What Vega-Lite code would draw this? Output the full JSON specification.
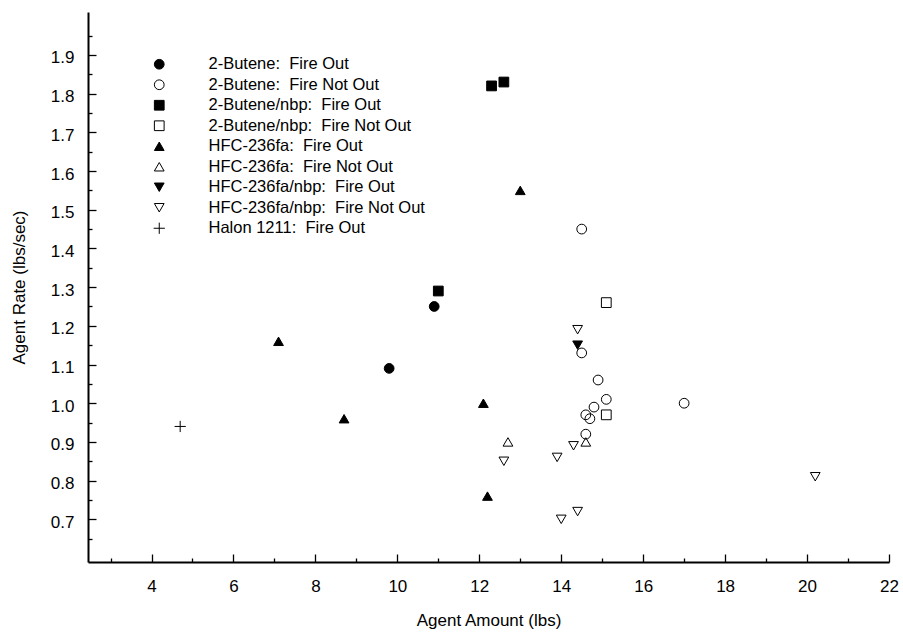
{
  "$schema": "https://vega.github.io/schema/vega-lite/v6.json",
  "autosize": "none",
  "width": 801,
  "height": 550,
  "padding": {"left": 88, "top": 12, "right": 14, "bottom": 77},
  "background": "white",
  "config": {
    "view": {"stroke": null},
    "font": "Liberation Sans",
    "axis": {
      "grid": false,
      "domainColor": "black",
      "domainWidth": 2,
      "tickColor": "black",
      "tickWidth": 1.3,
      "labelColor": "black",
      "labelFont": "Liberation Sans",
      "labelFontSize": 17,
      "titleFont": "Liberation Sans",
      "titleFontSize": 17,
      "titleFontWeight": "normal",
      "titleColor": "black"
    },
    "legend": {
      "title": null,
      "orient": "none",
      "legendX": 63,
      "legendY": 44,
      "padding": 0,
      "labelFont": "Liberation Sans",
      "labelFontSize": 16.5,
      "labelColor": "black",
      "labelLimit": 400,
      "labelOffset": 41,
      "rowPadding": 3.5,
      "symbolSize": 95,
      "symbolStrokeWidth": 1
    }
  },
  "data": {
    "values": [
      {"series": "2-Butene:\u00a0 Fire Out", "amount": 9.8, "rate": 1.09},
      {"series": "2-Butene:\u00a0 Fire Out", "amount": 10.9, "rate": 1.25},
      {"series": "2-Butene:\u00a0 Fire Not Out", "amount": 14.5, "rate": 1.45},
      {"series": "2-Butene:\u00a0 Fire Not Out", "amount": 14.5, "rate": 1.13},
      {"series": "2-Butene:\u00a0 Fire Not Out", "amount": 14.9, "rate": 1.06},
      {"series": "2-Butene:\u00a0 Fire Not Out", "amount": 15.1, "rate": 1.01},
      {"series": "2-Butene:\u00a0 Fire Not Out", "amount": 14.8, "rate": 0.99},
      {"series": "2-Butene:\u00a0 Fire Not Out", "amount": 14.6, "rate": 0.97},
      {"series": "2-Butene:\u00a0 Fire Not Out", "amount": 14.7, "rate": 0.96},
      {"series": "2-Butene:\u00a0 Fire Not Out", "amount": 14.6, "rate": 0.92},
      {"series": "2-Butene:\u00a0 Fire Not Out", "amount": 17.0, "rate": 1.0},
      {"series": "2-Butene/nbp:\u00a0 Fire Out", "amount": 12.3, "rate": 1.82},
      {"series": "2-Butene/nbp:\u00a0 Fire Out", "amount": 12.6, "rate": 1.83},
      {"series": "2-Butene/nbp:\u00a0 Fire Out", "amount": 11.0, "rate": 1.29},
      {"series": "2-Butene/nbp:\u00a0 Fire Not Out", "amount": 15.1, "rate": 1.26},
      {"series": "2-Butene/nbp:\u00a0 Fire Not Out", "amount": 15.1, "rate": 0.97},
      {"series": "HFC-236fa:\u00a0 Fire Out", "amount": 7.1, "rate": 1.16},
      {"series": "HFC-236fa:\u00a0 Fire Out", "amount": 8.7, "rate": 0.96},
      {"series": "HFC-236fa:\u00a0 Fire Out", "amount": 12.1, "rate": 1.0},
      {"series": "HFC-236fa:\u00a0 Fire Out", "amount": 13.0, "rate": 1.55},
      {"series": "HFC-236fa:\u00a0 Fire Out", "amount": 12.2, "rate": 0.76},
      {"series": "HFC-236fa:\u00a0 Fire Not Out", "amount": 12.7, "rate": 0.9},
      {"series": "HFC-236fa:\u00a0 Fire Not Out", "amount": 14.6, "rate": 0.9},
      {"series": "HFC-236fa/nbp:\u00a0 Fire Out", "amount": 14.4, "rate": 1.15},
      {"series": "HFC-236fa/nbp:\u00a0 Fire Not Out", "amount": 14.4, "rate": 1.19},
      {"series": "HFC-236fa/nbp:\u00a0 Fire Not Out", "amount": 14.3, "rate": 0.89},
      {"series": "HFC-236fa/nbp:\u00a0 Fire Not Out", "amount": 13.9, "rate": 0.86},
      {"series": "HFC-236fa/nbp:\u00a0 Fire Not Out", "amount": 12.6, "rate": 0.85},
      {"series": "HFC-236fa/nbp:\u00a0 Fire Not Out", "amount": 14.4, "rate": 0.72},
      {"series": "HFC-236fa/nbp:\u00a0 Fire Not Out", "amount": 14.0, "rate": 0.7},
      {"series": "HFC-236fa/nbp:\u00a0 Fire Not Out", "amount": 20.2, "rate": 0.81},
      {"series": "Halon 1211:\u00a0 Fire Out", "amount": 4.7, "rate": 0.94}
    ]
  },
  "layer": [
    {
      "mark": {"type": "point", "filled": true, "strokeWidth": 1, "opacity": 1},
      "encoding": {
        "x": {
          "field": "amount", "type": "quantitative",
          "scale": {"domain": [2.45, 22], "nice": false, "zero": false},
          "axis": {
            "orient": "bottom",
            "values": [4, 6, 8, 10, 12, 14, 16, 18, 20, 22],
            "ticks": false,
            "tickSize": 0,
            "labelPadding": 16,
            "labelFlush": false,
            "labelOverlap": false,
            "title": "Agent Amount (lbs)",
            "titlePadding": 18
          }
        },
        "y": {
          "field": "rate", "type": "quantitative",
          "scale": {"domain": [0.5897, 2.011], "nice": false, "zero": false},
          "axis": {
            "orient": "left",
            "values": [0.7, 0.8, 0.9, 1.0, 1.1, 1.2, 1.3, 1.4, 1.5, 1.6, 1.7, 1.8, 1.9],
            "format": ".1f",
            "ticks": false,
            "tickSize": 0,
            "labelPadding": 14,
            "labelOffset": 3,
            "labelFlush": false,
            "labelOverlap": false,
            "title": "Agent Rate (lbs/sec)",
            "titlePadding": 22
          }
        },
        "shape": {
          "field": "series", "type": "nominal",
          "scale": {
            "domain": ["2-Butene:\u00a0 Fire Out", "2-Butene:\u00a0 Fire Not Out", "2-Butene/nbp:\u00a0 Fire Out", "2-Butene/nbp:\u00a0 Fire Not Out", "HFC-236fa:\u00a0 Fire Out", "HFC-236fa:\u00a0 Fire Not Out", "HFC-236fa/nbp:\u00a0 Fire Out", "HFC-236fa/nbp:\u00a0 Fire Not Out", "Halon 1211:\u00a0 Fire Out"],
            "range": ["circle", "circle", "square", "square", "triangle-up", "triangle-up", "triangle-down", "triangle-down", "M-1.15,0H1.15M0,-1.15V1.15"]
          },
          "legend": {"title": null}
        },
        "fill": {
          "field": "series", "type": "nominal",
          "scale": {
            "domain": ["2-Butene:\u00a0 Fire Out", "2-Butene:\u00a0 Fire Not Out", "2-Butene/nbp:\u00a0 Fire Out", "2-Butene/nbp:\u00a0 Fire Not Out", "HFC-236fa:\u00a0 Fire Out", "HFC-236fa:\u00a0 Fire Not Out", "HFC-236fa/nbp:\u00a0 Fire Out", "HFC-236fa/nbp:\u00a0 Fire Not Out", "Halon 1211:\u00a0 Fire Out"],
            "range": ["black", "transparent", "black", "transparent", "black", "transparent", "black", "transparent", "transparent"]
          },
          "legend": {"title": null}
        },
        "stroke": {
          "field": "series", "type": "nominal",
          "scale": {
            "domain": ["2-Butene:\u00a0 Fire Out", "2-Butene:\u00a0 Fire Not Out", "2-Butene/nbp:\u00a0 Fire Out", "2-Butene/nbp:\u00a0 Fire Not Out", "HFC-236fa:\u00a0 Fire Out", "HFC-236fa:\u00a0 Fire Not Out", "HFC-236fa/nbp:\u00a0 Fire Out", "HFC-236fa/nbp:\u00a0 Fire Not Out", "Halon 1211:\u00a0 Fire Out"],
            "range": ["black", "black", "black", "black", "black", "black", "black", "black", "black"]
          },
          "legend": {"title": null}
        },
        "size": {"value": 95}
      }
    },
    {
      "mark": {"type": "point", "opacity": 0},
      "encoding": {
        "x": {
          "field": "amount", "type": "quantitative",
          "axis": {
            "orient": "bottom",
            "values": [4, 6, 8, 10, 12, 14, 16, 18, 20, 22],
            "offset": -8,
            "tickSize": 8,
            "labels": false,
            "domain": false,
            "title": null
          }
        },
        "y": {
          "field": "rate", "type": "quantitative",
          "axis": {
            "orient": "left",
            "values": [0.7, 0.8, 0.9, 1.0, 1.1, 1.2, 1.3, 1.4, 1.5, 1.6, 1.7, 1.8, 1.9],
            "offset": -8,
            "tickSize": 8,
            "labels": false,
            "domain": false,
            "title": null
          }
        }
      }
    },
    {
      "mark": {"type": "point", "opacity": 0},
      "encoding": {
        "x": {
          "field": "amount", "type": "quantitative",
          "axis": {
            "orient": "bottom",
            "values": [3, 5, 7, 9, 11, 13, 15, 17, 19, 21],
            "offset": -4,
            "tickSize": 4,
            "labels": false,
            "domain": false,
            "title": null
          }
        },
        "y": {
          "field": "rate", "type": "quantitative",
          "axis": {
            "orient": "left",
            "values": [0.65, 0.75, 0.85, 0.95, 1.05, 1.15, 1.25, 1.35, 1.45, 1.55, 1.65, 1.75, 1.85, 1.95],
            "offset": -4,
            "tickSize": 4,
            "labels": false,
            "domain": false,
            "title": null
          }
        }
      }
    }
  ],
  "resolve": {"axis": {"x": "independent", "y": "independent"}}
}
